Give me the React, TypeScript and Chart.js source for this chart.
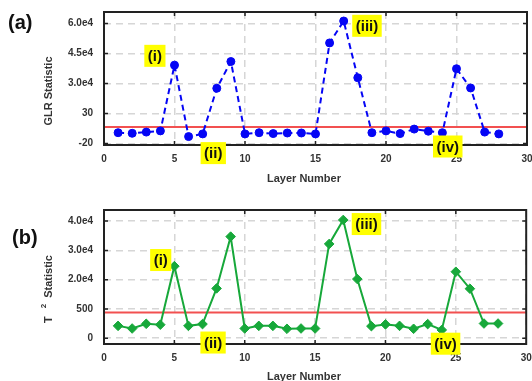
import React, { useEffect, useRef } from 'react';
import { Chart, registerables } from 'chart.js';

Chart.register(...registerables);

// ---- data (y values are positions on the evenly spaced, relabelled axis) ----
const layers = [1, 2, 3, 4, 5, 6, 7, 8, 9, 10, 11, 12, 13, 14, 15, 16, 17, 18, 19, 20, 21, 22, 23, 24, 25, 26, 27, 28];
const glrValues = [0.36, 0.34, 0.38, 0.42, 2.61, 0.23, 0.32, 1.84, 2.73, 0.32, 0.36, 0.33, 0.35, 0.35, 0.32, 3.35, 4.08, 2.19, 0.36, 0.42, 0.33, 0.48, 0.41, 0.36, 2.49, 1.85, 0.38, 0.32];
const t2Values = [0.42, 0.33, 0.49, 0.46, 2.46, 0.42, 0.48, 1.70, 3.47, 0.33, 0.42, 0.42, 0.32, 0.33, 0.33, 3.22, 4.04, 2.02, 0.41, 0.47, 0.42, 0.32, 0.48, 0.28, 2.27, 1.69, 0.50, 0.50];
const glrTickLabels = ['-20', '30', '3.0e4', '4.5e4', '6.0e4'];
const t2TickLabels = ['0', '500', '2.0e4', '3.0e4', '4.0e4'];
const glrLimit = 0.55;
const t2Limit = 0.88;
const glrNotes = [
  { text: '(i)', x: 3.61, y: 2.92 },
  { text: '(ii)', x: 7.75, y: -0.32 },
  { text: '(iii)', x: 18.65, y: 3.92 },
  { text: '(iv)', x: 24.38, y: -0.1 },
];
const t2Notes = [
  { text: '(i)', x: 4.03, y: 2.67 },
  { text: '(ii)', x: 7.75, y: -0.15 },
  { text: '(iii)', x: 18.65, y: 3.9 },
  { text: '(iv)', x: 24.27, y: -0.19 },
];

const FONT = '"Liberation Sans", Arial, Helvetica, sans-serif';

type Part = { text: string; size: number; rise?: number; gap?: number };

const decoPlugin = {
  id: 'deco',
  afterDraw(chart: any, _args: any, opts: any) {
    const { ctx, chartArea: a, scales } = chart;
    const xs = scales.x;
    const ys = scales.y;
    ctx.save();
    // frame
    ctx.strokeStyle = '#222';
    ctx.lineWidth = 2;
    ctx.strokeRect(a.left, a.top, a.right - a.left, a.bottom - a.top);
    // inward tick marks
    ctx.lineWidth = 1.5;
    ctx.beginPath();
    for (const t of ys.ticks) {
      const y = ys.getPixelForValue(t.value);
      ctx.moveTo(a.left, y);
      ctx.lineTo(a.left + 4, y);
      ctx.moveTo(a.right, y);
      ctx.lineTo(a.right - 4, y);
    }
    for (const t of xs.ticks) {
      if (t.value <= xs.min || t.value >= xs.max) continue;
      const x = xs.getPixelForValue(t.value);
      ctx.moveTo(x, a.top);
      ctx.lineTo(x, a.top + 4);
      ctx.moveTo(x, a.bottom);
      ctx.lineTo(x, a.bottom - 4);
    }
    ctx.stroke();

    // annotations
    ctx.font = `bold 15px ${FONT}`;
    ctx.textAlign = 'center';
    ctx.textBaseline = 'middle';
    for (const n of opts.notes) {
      const cx = xs.getPixelForValue(n.x);
      const cy = ys.getPixelForValue(n.y);
      const w = ctx.measureText(n.text).width + 7;
      const h = 22;
      ctx.fillStyle = '#ffff00';
      ctx.fillRect(cx - w / 2, cy - h / 2, w, h);
      ctx.fillStyle = '#111';
      ctx.fillText(n.text, cx, cy + 1);
    }

    // x title
    ctx.font = `bold 11px ${FONT}`;
    ctx.fillStyle = '#333';
    ctx.fillText(opts.xTitle, opts.xTitleX, opts.xTitleY);

    // panel label
    ctx.font = `bold 20px ${FONT}`;
    ctx.fillStyle = '#111';
    ctx.textAlign = 'left';
    ctx.fillText(opts.panel, opts.panelX, opts.panelY);

    // y title (rotated)
    const parts: Part[] = opts.yParts;
    let total = 0;
    for (const p of parts) {
      ctx.font = `bold ${p.size}px ${FONT}`;
      total += (p.gap || 0) + ctx.measureText(p.text).width;
    }
    ctx.translate(opts.yTitleX, opts.yTitleY);
    ctx.rotate(-Math.PI / 2);
    ctx.fillStyle = '#333';
    ctx.textAlign = 'left';
    ctx.textBaseline = 'middle';
    let pos = -total / 2;
    for (const p of parts) {
      ctx.font = `bold ${p.size}px ${FONT}`;
      pos += p.gap || 0;
      ctx.fillText(p.text, pos, -(p.rise || 0));
      pos += ctx.measureText(p.text).width;
    }
    ctx.restore();
  },
};

function makeConfig(
  values: number[],
  tickLabels: string[],
  limit: number,
  yMin: number,
  yMax: number,
  color: string,
  dashed: boolean,
  pointStyle: string,
  pointRadius: number,
  xAxisHeight: number,
  topPad: number,
  deco: any
): any {
  return {
    type: 'line',
    data: {
      datasets: [
        {
          data: layers.map((x, i) => ({ x, y: values[i] })),
          borderColor: color,
          backgroundColor: color,
          borderWidth: 2,
          borderDash: dashed ? [6, 4] : [],
          pointStyle,
          pointRadius,
          pointBackgroundColor: color,
          pointBorderColor: color,
          pointBorderWidth: 1,
          tension: 0,
          order: 1,
        },
        {
          data: [
            { x: 0, y: limit },
            { x: 30, y: limit },
          ],
          borderColor: '#f25050',
          borderWidth: 2,
          pointRadius: 0,
          order: 2,
        },
      ],
    },
    options: {
      animation: false,
      responsive: false,
      devicePixelRatio: 1,
      layout: { padding: { left: 0, right: 4, top: topPad, bottom: 0 } },
      plugins: {
        legend: { display: false },
        tooltip: { enabled: false },
        deco,
      },
      scales: {
        x: {
          type: 'linear',
          min: 0,
          max: 30,
          ticks: {
            stepSize: 5,
            padding: 8,
            color: '#333',
            font: { family: FONT, size: 10, weight: 'bold' },
            maxRotation: 0,
          },
          grid: { color: '#d6d6d6', lineWidth: 1.5, drawTicks: false },
          border: { display: false, dash: [7, 5] },
          afterFit: (s: any) => {
            s.height = xAxisHeight;
            s.paddingLeft = 0;
            s.paddingRight = 0;
          },
        },
        y: {
          type: 'linear',
          min: yMin,
          max: yMax,
          afterBuildTicks: (s: any) => {
            s.ticks = tickLabels.map((_, i) => ({ value: i }));
          },
          ticks: {
            padding: 11,
            color: '#333',
            font: { family: FONT, size: 10, weight: 'bold' },
            callback: (v: any) => tickLabels[Math.round(Number(v))] ?? '',
          },
          grid: { color: '#d6d6d6', lineWidth: 1.5, drawTicks: false },
          border: { display: false, dash: [7, 5] },
          afterFit: (s: any) => {
            s.width = 104;
            s.paddingTop = 0;
            s.paddingBottom = 0;
          },
        },
      },
    },
    plugins: [decoPlugin],
  };
}

export default function App() {
  const refA = useRef<HTMLCanvasElement | null>(null);
  const refB = useRef<HTMLCanvasElement | null>(null);

  useEffect(() => {
    const chartA = new Chart(
      refA.current as HTMLCanvasElement,
      makeConfig(glrValues, glrTickLabels, glrLimit, -0.05, 4.38, '#0505f5', true, 'circle', 4, 50, 12, {
        notes: glrNotes,
        xTitle: 'Layer Number',
        xTitleX: 304,
        xTitleY: 179,
        panel: '(a)',
        panelX: 8,
        panelY: 23,
        yTitleX: 49,
        yTitleY: 91,
        yParts: [{ text: 'GLR Statistic', size: 11 }],
      })
    );
    const chartB = new Chart(
      refB.current as HTMLCanvasElement,
      makeConfig(t2Values, t2TickLabels, t2Limit, -0.2, 4.38, '#17a83a', false, 'rectRot', 4.8, 37, 15, {
        notes: t2Notes,
        xTitle: 'Layer Number',
        xTitleX: 304,
        xTitleY: 182,
        panel: '(b)',
        panelX: 12,
        panelY: 43,
        yTitleX: 49,
        yTitleY: 94,
        yParts: [
          { text: 'T', size: 11 },
          { text: '2', size: 8, rise: 5, gap: 8 },
          { text: 'Statistic', size: 11, gap: 6 },
        ],
      })
    );
    return () => {
      chartA.destroy();
      chartB.destroy();
    };
  }, []);

  return (
    <div style={{ position: 'absolute', left: 0, top: 0, width: 532, height: 381, background: '#fff' }}>
      <canvas ref={refA} width={532} height={195} style={{ position: 'absolute', left: 0, top: 0, display: 'block' }} />
      <canvas ref={refB} width={532} height={186} style={{ position: 'absolute', left: 0, top: 195, display: 'block' }} />
    </div>
  );
}
